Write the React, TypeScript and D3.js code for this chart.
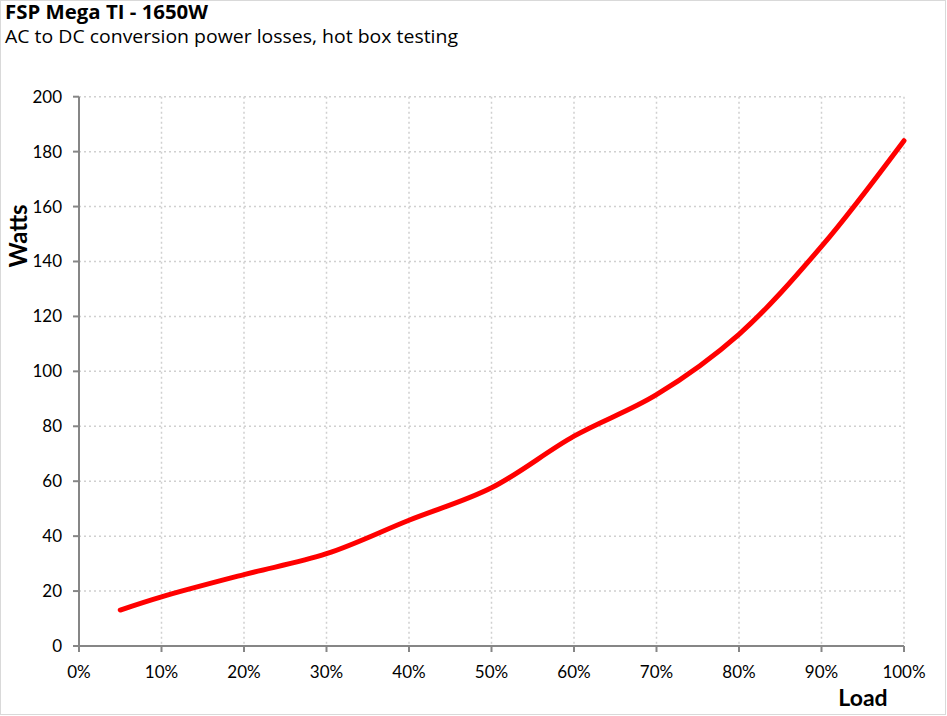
import React from "react";
import * as d3 from "d3";

const loads = [5, 10, 20, 30, 40, 50, 60, 70, 80, 90, 100];
const watts = [13.1, 17.9, 26.0, 33.6, 45.8, 57.6, 76.4, 91.5, 113.5, 145.5, 184.0];
const xTicks = [0, 10, 20, 30, 40, 50, 60, 70, 80, 90, 100];
const yTicks = [0, 20, 40, 60, 80, 100, 120, 140, 160, 180, 200];
const title = "FSP Mega TI - 1650W";
const subtitle = "AC to DC conversion power losses, hot box testing";

const W = 947;
const H = 716;
const L = 79, R = 904, T = 96.7, B = 646;

export default function App() {
  React.useEffect(() => {
    document.body.style.margin = "0";
  }, []);
  const x = d3.scaleLinear().domain([0, 100]).range([L, R]);
  const y = d3.scaleLinear().domain([0, 200]).range([B, T]);
  const pts = loads.map((l, i) => [l, watts[i]] as [number, number]);
  const line = d3
    .line<[number, number]>()
    .x((d) => x(d[0]))
    .y((d) => y(d[1]))
    .curve(d3.curveCatmullRom.alpha(0.5));
  const tickFont = "'Lato', 'DejaVu Sans', sans-serif";
  return (
    <svg width={W} height={H} style={{ display: "block", background: "#fff" }}>
      <rect x={0.5} y={0.5} width={W - 2} height={H - 2} fill="#fff" stroke="#d9d9d9" strokeWidth={1} />
      <text x={5} y={19} fontFamily="'Open Sans', sans-serif" fontWeight="bold" fontSize={19} textLength={203} lengthAdjust="spacingAndGlyphs" fill="#000">
        {title}
      </text>
      <text x={5} y={43} fontFamily="'Open Sans', sans-serif" fontSize={19} textLength={453} lengthAdjust="spacingAndGlyphs" fill="#000">
        {subtitle}
      </text>
      {yTicks.map((t) => (
        <line key={"gy" + t} x1={L} x2={R} y1={y(t)} y2={y(t)} stroke="#d0d0d0" strokeWidth={1.5} strokeDasharray="2,3" />
      ))}
      {xTicks.map((t) => (
        <line key={"gx" + t} x1={x(t)} x2={x(t)} y1={T} y2={B} stroke="#d0d0d0" strokeWidth={1.5} strokeDasharray="2,3" />
      ))}
      <line x1={L} x2={L} y1={T} y2={B} stroke="#868686" strokeWidth={2} />
      <line x1={L} x2={R} y1={B} y2={B} stroke="#868686" strokeWidth={2} />
      {yTicks.map((t) => (
        <g key={"ty" + t}>
          <line x1={L - 6} x2={L} y1={y(t)} y2={y(t)} stroke="#868686" strokeWidth={2} />
          <text x={62} y={y(t)} dy="0.35em" textAnchor="end" fontFamily={tickFont} fontSize={17} fill="#000">
            {t}
          </text>
        </g>
      ))}
      {xTicks.map((t) => (
        <g key={"tx" + t}>
          <line x1={x(t)} x2={x(t)} y1={B} y2={B + 6} stroke="#868686" strokeWidth={2} />
          <text x={x(t)} y={678} textAnchor="middle" fontFamily={tickFont} fontSize={17} fill="#000">
            {t + "%"}
          </text>
        </g>
      ))}
      <text x={863} y={706} textAnchor="middle" fontFamily={tickFont} fontWeight="bold" fontSize={23} fill="#000">
        Load
      </text>
      <text
        transform={`translate(27,236) rotate(-90)`}
        textAnchor="middle"
        fontFamily={tickFont}
        fontWeight="bold"
        fontSize={24}
        fill="#000"
      >
        Watts
      </text>
      <path d={line(pts) || ""} fill="none" stroke="#ff0000" strokeWidth={5} strokeLinecap="round" strokeLinejoin="round" />
    </svg>
  );
}
